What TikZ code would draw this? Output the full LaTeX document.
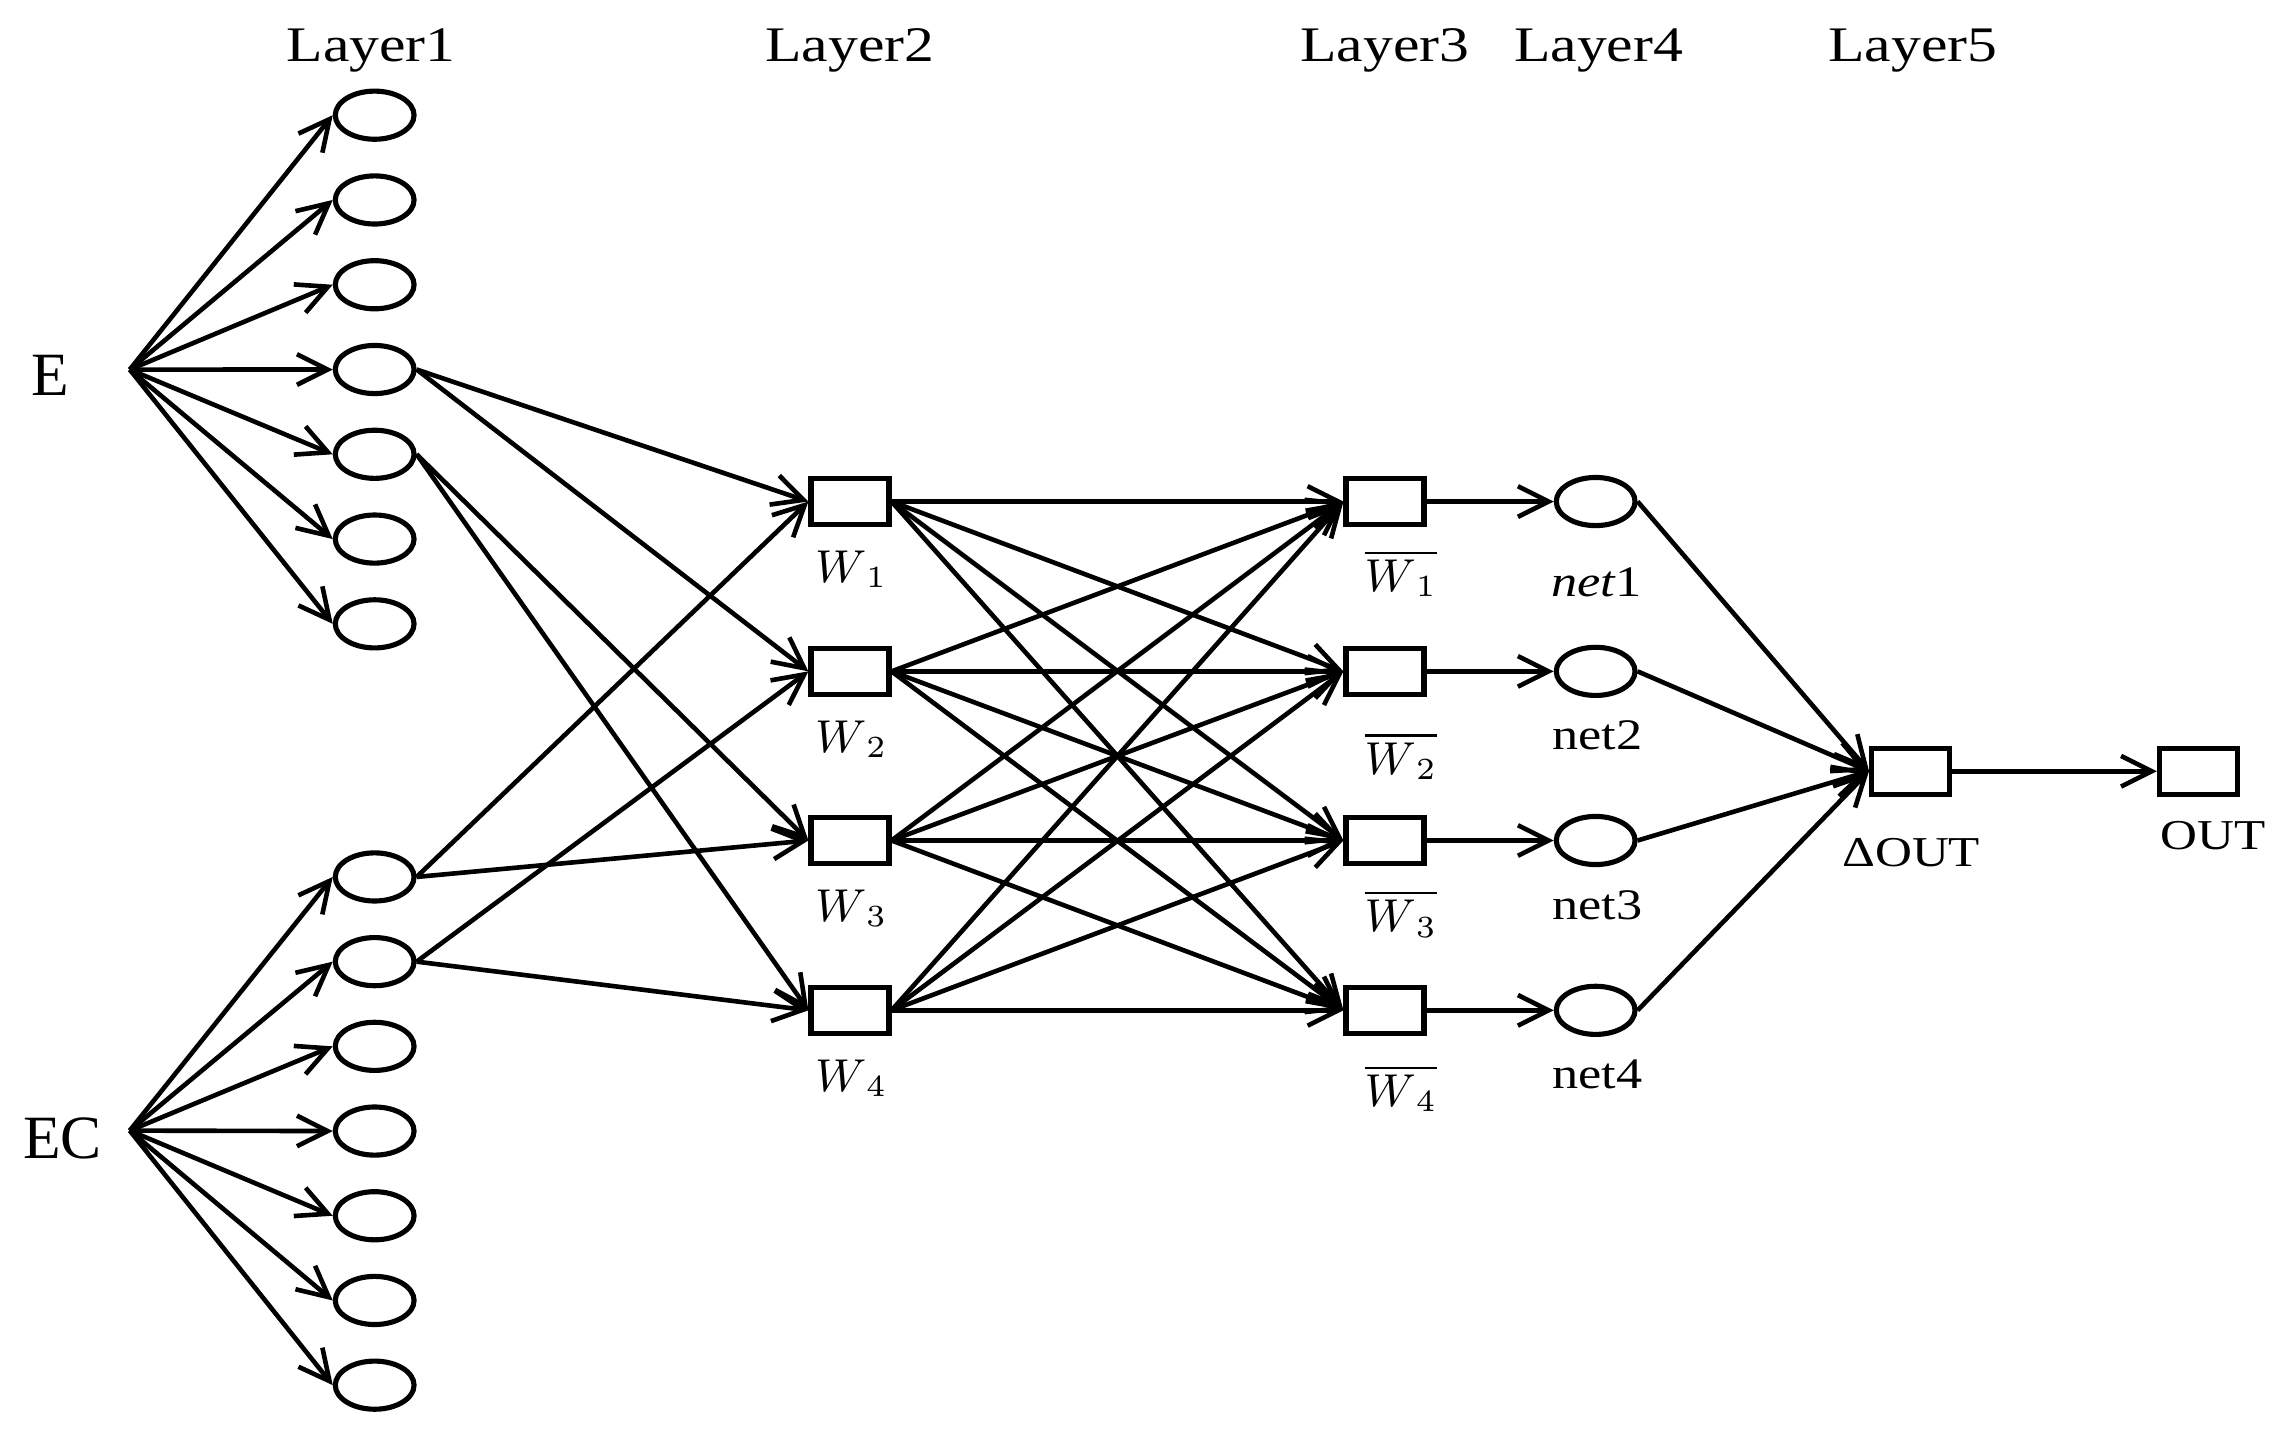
\documentclass[tikz,border=0pt]{standalone}
\usepackage{fontspec}
\setmainfont{Liberation Serif}
\newfontfamily\stretchfont{Liberation Serif}[FakeStretch=1.2]
\usetikzlibrary{shapes.geometric,arrows.meta}
\begin{document}
\begin{tikzpicture}[x=0.01cm,y=-0.01cm,line width=0.9pt,
  conn/.style={-{Straight Barb[length=2.1mm,width=2.1mm]}},
  lnode/.style={ellipse,draw,line width=1pt,minimum width=0.54cm,minimum height=0.33cm,inner sep=0pt},
  bnode/.style={rectangle,draw,line width=1pt,minimum width=0.535cm,minimum height=0.315cm,inner sep=0pt},
  layer/.style={font=\stretchfont\fontsize{9.7pt}{11pt}\selectfont,inner sep=0pt,anchor=base},
  big/.style={font=\fontsize{12pt}{14pt}\selectfont,inner sep=0pt,anchor=base},
  wlab/.style={font=\fontsize{8.8pt}{10pt}\selectfont,inner sep=0pt,anchor=north},
  nlab/.style={font=\stretchfont\fontsize{8.5pt}{10pt}\selectfont,inner sep=0pt,anchor=north},
  olab/.style={font=\stretchfont\fontsize{8.3pt}{10pt}\selectfont,inner sep=0pt,anchor=base}]
\useasboundingbox (0,0) rectangle (1568,981);
% layer titles
\node[layer] (L1) at (254.5,42.3) {Layer1};
\node[layer] (L2) at (583,42.3) {Layer2};
\node[layer] (L3) at (950,42.3) {Layer3};
\node[layer] (L4) at (1096.5,42.3) {Layer4};
\node[layer] (L5) at (1312,42.3) {Layer5};
% inputs
\node[big] (Elab) at (34.5,271.6) {E};
\node[big] (EClab) at (43,794.6) {EC};
\coordinate (Ep) at (89,253.5);
\coordinate (ECp) at (89,775.5);
% layer 1 ellipses
\foreach \i in {1,...,7} {
  \node[lnode] (a\i) at (257,{79+58.15*(\i-1)}) {};
  \draw[conn] (Ep) -- (a\i.west);
  \node[lnode] (b\i) at (257,{601.5+58.1*(\i-1)}) {};
  \draw[conn] (ECp) -- (b\i.west);
}
% layers 2-4
\foreach \i/\y in {1/344,2/460.5,3/576.5,4/693} {
  \node[bnode] (w\i) at (583,\y) {};
  \node[bnode] (v\i) at (950,\y) {};
  \node[lnode] (n\i) at (1094.5,\y) {};
}
\node[bnode] (dout) at (1310.5,529) {};
\node[bnode] (out) at (1508,529) {};
% labels
\node[wlab] (wl1) at (584,376) {$W_{\,1}$};
\node[wlab] (wl2) at (584,492.6) {$W_{\,2}$};
\node[wlab] (wl3) at (584,609) {$W_{\,3}$};
\node[wlab] (wl4) at (584,725.6) {$W_{\,4}$};
\node[wlab] (vl1) at (961,375.6) {$\overline{W_{\,1}}$};
\node[wlab] (vl2) at (961,500.8) {$\overline{W_{\,2}}$};
\node[wlab] (vl3) at (961,609) {$\overline{W_{\,3}}$};
\node[wlab] (vl4) at (961,728.9) {$\overline{W_{\,4}}$};
\node[nlab] (nl1) at (1095,387.5) {{\itshape net}1};
\node[nlab] (nl2) at (1095.5,492.5) {net2};
\node[nlab] (nl3) at (1095.5,609.5) {net3};
\node[nlab] (nl4) at (1095.5,725.5) {net4};
\node[olab] (doutlab) at (1311,594.4) {ΔOUT};
\node[olab] (outlab) at (1518,583) {OUT};
% connections layer1 -> layer2
\draw[conn] (a4.east) -- (w1.west);
\draw[conn] (a4.east) -- (w2.west);
\draw[conn] (a5.east) -- (w3.west);
\draw[conn] (a5.east) -- (w4.west);
\draw[conn] (b1.east) -- (w1.west);
\draw[conn] (b1.east) -- (w3.west);
\draw[conn] (b2.east) -- (w2.west);
\draw[conn] (b2.east) -- (w4.west);
% layer2 -> layer3
\foreach \i in {1,...,4} {
  \foreach \j in {1,...,4} {
    \draw[conn] (w\i.east) -- (v\j.west);
  }
  \draw[conn] (v\i.east) -- (n\i.west);
  \draw[conn] (n\i.east) -- (dout.west);
}
\draw[conn] (dout.east) -- (out.west);
\end{tikzpicture}
\end{document}
